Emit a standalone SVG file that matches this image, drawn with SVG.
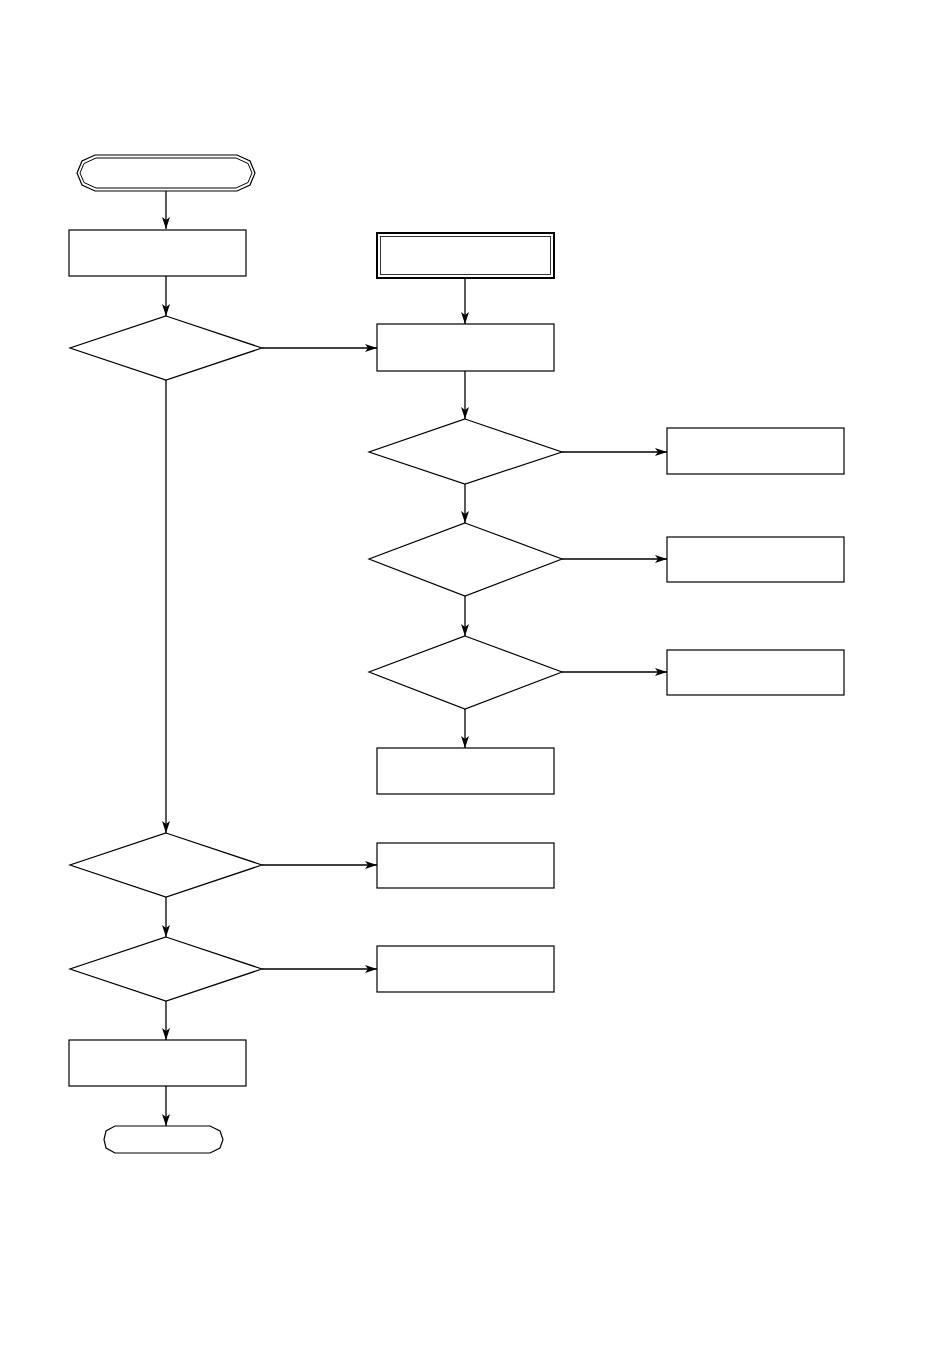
<svg xmlns="http://www.w3.org/2000/svg" width="950" height="1360" viewBox="0 0 950 1360">
<defs>
<style>
.s{fill:#fff;stroke:#000;stroke-width:1.2}
.c{fill:none;stroke:#000;stroke-width:1.3}
</style>
<marker id="a" viewBox="0 0 12 8" markerWidth="12" markerHeight="8" refX="12" refY="4" orient="auto" markerUnits="userSpaceOnUse">
<path d="M0,0 L12,4 L0,8 L3,4 z" fill="#000"/>
</marker>
</defs>
<rect width="950" height="1360" fill="#fff"/>
<g id="connectors">
<line class="c" x1="166" y1="191" x2="166" y2="229" marker-end="url(#a)"/>
<line class="c" x1="166" y1="276" x2="166" y2="316" marker-end="url(#a)"/>
<line class="c" x1="262" y1="348" x2="377" y2="348" marker-end="url(#a)"/>
<line class="c" x1="465" y1="278" x2="465" y2="324" marker-end="url(#a)"/>
<line class="c" x1="465" y1="371" x2="465" y2="419" marker-end="url(#a)"/>
<line class="c" x1="562" y1="452" x2="667" y2="452" marker-end="url(#a)"/>
<line class="c" x1="465" y1="484" x2="465" y2="523" marker-end="url(#a)"/>
<line class="c" x1="562" y1="559" x2="667" y2="559" marker-end="url(#a)"/>
<line class="c" x1="465" y1="596" x2="465" y2="636" marker-end="url(#a)"/>
<line class="c" x1="562" y1="672" x2="667" y2="672" marker-end="url(#a)"/>
<line class="c" x1="465" y1="709" x2="465" y2="748" marker-end="url(#a)"/>
<line class="c" x1="166" y1="380" x2="166" y2="833" marker-end="url(#a)"/>
<line class="c" x1="262" y1="865" x2="377" y2="865" marker-end="url(#a)"/>
<line class="c" x1="166" y1="897" x2="166" y2="937" marker-end="url(#a)"/>
<line class="c" x1="262" y1="969" x2="377" y2="969" marker-end="url(#a)"/>
<line class="c" x1="166" y1="1001" x2="166" y2="1040" marker-end="url(#a)"/>
<line class="c" x1="166" y1="1086" x2="166" y2="1126" marker-end="url(#a)"/>
</g>
<g id="start">
<path class="s" d="M95,155 L237,155 L250,161 L255,173 L250,185 L237,191 L95,191 L82,185 L77,173 L82,161 Z"/>
<path fill="none" stroke="#000" stroke-width="1" d="M96,158 L236,158 L248,163.5 L252,173 L248,182.5 L236,188 L96,188 L84,182.5 L80,173 L84,163.5 Z"/>
</g>
<g id="box1"><rect class="s" x="69" y="230" width="177" height="46"/></g>
<g id="dec1"><polygon class="s" points="166,316 262,348 166,380 70,348"/></g>
<g id="entry">
<rect fill="#fff" stroke="#000" stroke-width="2" x="377" y="233" width="177" height="45"/>
<rect fill="none" stroke="#000" stroke-width="0.8" x="380.5" y="236.5" width="170" height="38"/>
</g>
<g id="box2"><rect class="s" x="377" y="324" width="177" height="47"/></g>
<g id="dec2"><polygon class="s" points="465,419 562,452 465,484 369,452"/></g>
<g id="out2"><rect class="s" x="667" y="428" width="177" height="46"/></g>
<g id="dec3"><polygon class="s" points="465,523 562,559 465,596 369,559"/></g>
<g id="out3"><rect class="s" x="667" y="537" width="177" height="45"/></g>
<g id="dec4"><polygon class="s" points="465,636 562,672 465,709 369,672"/></g>
<g id="out4"><rect class="s" x="667" y="650" width="177" height="45"/></g>
<g id="box5"><rect class="s" x="377" y="748" width="177" height="46"/></g>
<g id="dec5"><polygon class="s" points="166,833 262,865 166,897 70,865"/></g>
<g id="out5"><rect class="s" x="377" y="843" width="177" height="45"/></g>
<g id="dec6"><polygon class="s" points="166,937 262,969 166,1001 70,969"/></g>
<g id="out6"><rect class="s" x="377" y="946" width="177" height="46"/></g>
<g id="box7"><rect class="s" x="69" y="1040" width="177" height="46"/></g>
<g id="end">
<path class="s" d="M115,1126 L210,1126 L220,1131 L223,1139.5 L220,1148 L210,1153 L115,1153 L106,1148 L104,1139.5 L106,1131 Z"/>
</g>
</svg>
